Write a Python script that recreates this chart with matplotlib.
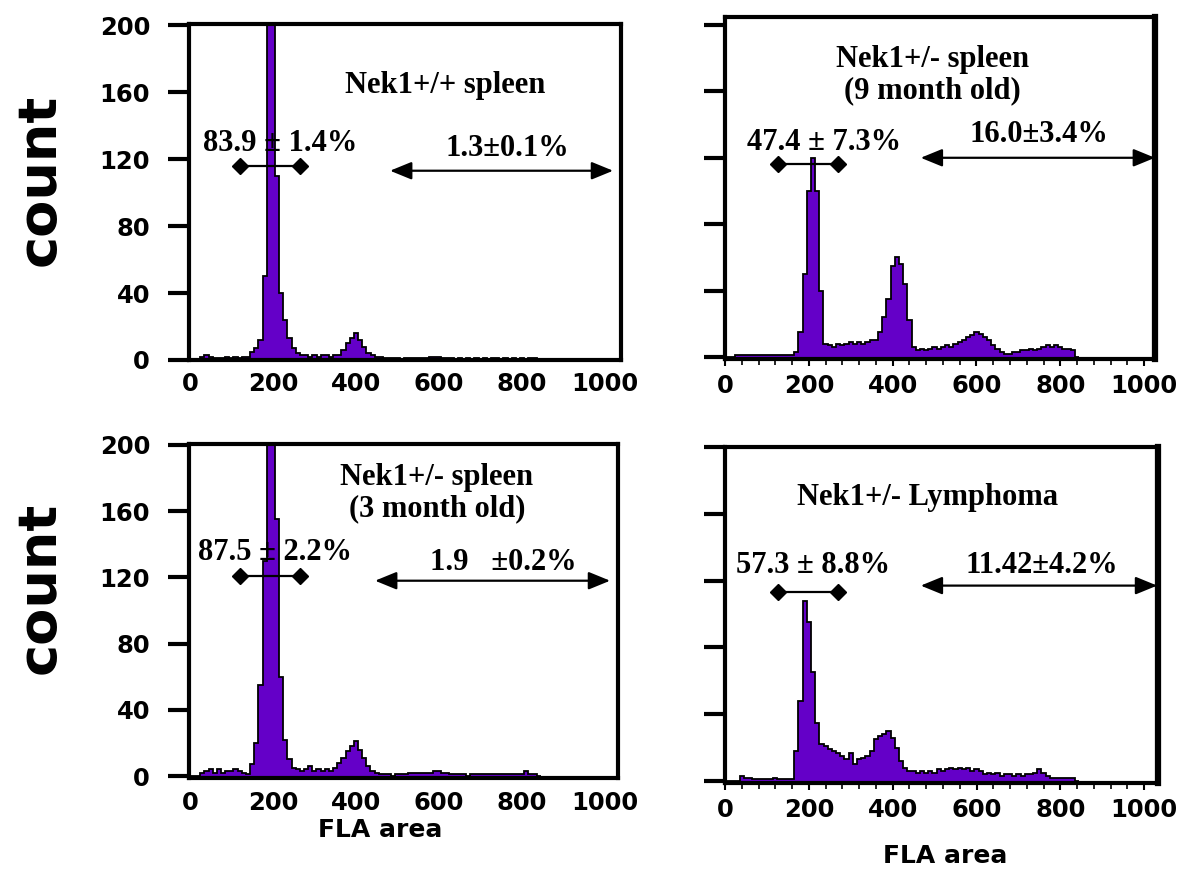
import matplotlib
matplotlib.use("Agg")
import matplotlib.pyplot as plt
import numpy as np

# ---------------- data ----------------
bin_centers = list(range(0, 850, 10))   # FLA area channel centres (bin width 10)

tl_counts = [0, 0, 0, 2, 3, 2, 1, 1, 1, 2,
             1, 2, 1, 2, 2, 5, 7, 12, 50, 210,
             230, 110, 40, 24, 13, 7, 4, 3, 3, 2,
             3, 2, 3, 3, 2, 3, 3, 6, 10, 13,
             16, 12, 8, 4, 3, 2, 2, 1, 1, 1,
             1, 0, 1, 1, 1, 1, 1, 1, 2, 2,
             2, 1, 1, 1, 0, 1, 0, 1, 0, 1,
             0, 1, 0, 1, 1, 0, 1, 0, 1, 0,
             1, 0, 1, 1, 0]

tr_counts = [0, 0, 0, 1, 1, 1, 1, 1, 1, 1,
             1, 1, 1, 1, 1, 1, 1, 3, 15, 50,
             100, 120, 100, 40, 8, 7, 6, 8, 7, 8,
             9, 8, 9, 8, 9, 10, 10, 15, 24, 35,
             55, 60, 56, 44, 22, 6, 4, 5, 4, 5,
             6, 5, 6, 7, 6, 8, 9, 10, 12, 13,
             15, 14, 12, 10, 7, 5, 3, 2, 2, 3,
             3, 4, 4, 5, 4, 5, 6, 7, 6, 7,
             6, 5, 5, 4, 0]

bl_counts = [0, 0, 0, 2, 3, 4, 2, 4, 2, 3,
             3, 4, 3, 2, 1, 7, 20, 55, 130, 215,
             230, 155, 60, 22, 10, 5, 4, 3, 4, 6,
             3, 4, 3, 4, 3, 5, 8, 11, 15, 18,
             21, 16, 11, 6, 3, 2, 1, 1, 1, 0,
             1, 1, 1, 2, 2, 2, 2, 2, 2, 3,
             3, 2, 2, 1, 1, 1, 1, 0, 1, 1,
             1, 1, 1, 1, 1, 1, 1, 1, 1, 1,
             1, 3, 1, 1, 0]

br_counts = [0, 0, 0, 0, 3, 2, 2, 1, 1, 1,
             1, 1, 2, 1, 1, 1, 1, 18, 48, 108,
             95, 65, 35, 22, 21, 19, 18, 17, 15, 13,
             17, 10, 13, 14, 15, 18, 25, 27, 28, 30,
             26, 20, 12, 8, 6, 6, 5, 6, 5, 6,
             5, 7, 6, 7, 8, 7, 8, 7, 8, 6,
             7, 6, 4, 5, 4, 5, 3, 4, 4, 3,
             4, 3, 4, 4, 5, 7, 5, 3, 2, 2,
             2, 2, 2, 2, 0]

y_ticks = [0, 40, 80, 120, 160, 200]
x_ticks = [0, 200, 400, 600, 800, 1000]

titles = ["Nek1+/+ spleen", "Nek1+/- spleen\n(9 month old)",
          "Nek1+/- spleen\n(3 month old)", "Nek1+/- Lymphoma"]
g1_labels = ["83.9 \u00b1 1.4%", "47.4 \u00b1 7.3%", "87.5 \u00b1 2.2%", "57.3 \u00b1 8.8%"]
sub_labels = ["1.3\u00b10.1%", "16.0\u00b13.4%", "1.9   \u00b10.2%", "11.42\u00b14.2%"]

# ---------------- style ----------------
PURPLE = "#6400C8"
SANS = ["DejaVu Sans"]
SERIF = ["Liberation Serif", "DejaVu Serif"]
TXT = 22
TICK = 17.5

W, H = 1189, 869
fig = plt.figure(figsize=(W / 100, H / 100), dpi=100)

def frac(l, r, t, b):
    return [l / W, 1 - b / H, (r - l) / W, (b - t) / H]

panels = [
    dict(rect=frac(189, 621, 24, 360), xlim=(-2, 1038), ylim=(0, 200.6), labels=True,
         counts=tl_counts,
         title_xy=(614, 164), g1_xy=(217, 129), bar=(120, 265, 116),
         arrow=(482, 1019, 113), sub_xy=(764, 126)),
    dict(rect=frac(725, 1155, 17, 359), xlim=(0, 1026), ylim=(-1.2, 204.8), labels=False,
         counts=tr_counts,
         title_xy=(495, 170), g1_xy=(236, 129), bar=(126, 269, 116),
         arrow=(467, 1026, 120), sub_xy=(748, 134)),
    dict(rect=frac(189, 618, 444, 778), xlim=(-2, 1031), ylim=(-1.2, 200.6), labels=True,
         counts=bl_counts,
         title_xy=(595, 171), g1_xy=(205, 135), bar=(120, 265, 121),
         arrow=(446, 1012, 118), sub_xy=(754, 129)),
    dict(rect=frac(725, 1158, 447, 783), xlim=(0, 1033), ylim=(-1.2, 200), labels=False,
         counts=br_counts,
         title_xy=(483, 170), g1_xy=(210, 129), bar=(126, 269, 113),
         arrow=(467, 1031, 117), sub_xy=(757, 129)),
]

centers = np.array(bin_centers, dtype=float)
edges = np.concatenate([centers - 5, [centers[-1] + 5]])

for i, p in enumerate(panels):
    ax = fig.add_axes(p["rect"])
    counts = np.array(p["counts"], dtype=float)
    ax.stairs(counts, edges, fill=True, color=PURPLE, zorder=2)
    ax.stairs(counts, edges, color="black", lw=1.3, zorder=3)
    ax.set_xlim(*p["xlim"])
    ax.set_ylim(*p["ylim"])

    for s in ax.spines.values():
        s.set_linewidth(3)
        s.set_zorder(5)
    if not p["labels"]:
        ax.spines["right"].set_linewidth(4.5)

    ax.set_yticks(y_ticks)
    ax.set_xticks(x_ticks)
    ax.tick_params(axis="y", direction="out", length=15, width=3, pad=13,
                   labelsize=TICK, left=True, right=False)
    if p["labels"]:
        ax.tick_params(axis="x", length=0, pad=9, labelsize=TICK)
    else:
        ax.set_yticklabels([])
        ax.set_xticks(np.arange(0, 1001, 40), minor=True)
        ax.tick_params(axis="x", which="major", direction="out", length=5, width=1.5,
                       pad=6, labelsize=TICK)
        ax.tick_params(axis="x", which="minor", direction="out", length=4, width=1.2)
    for lab in ax.get_xticklabels() + ax.get_yticklabels():
        lab.set_fontfamily(SANS)
        lab.set_fontweight("bold")

    # annotations
    ax.text(*p["title_xy"], titles[i], ha="center", va="center", fontsize=TXT,
            fontweight="bold", family=SERIF, linespacing=1.1, zorder=6)
    ax.text(*p["g1_xy"], g1_labels[i], ha="center", va="center", fontsize=TXT,
            fontweight="bold", family=SERIF, zorder=6)
    x1, x2, yb = p["bar"]
    ax.plot([x1, x2], [yb, yb], color="black", lw=1.6, marker="D", markersize=8,
            zorder=6, clip_on=False)
    a1, a2, ya = p["arrow"]
    ax.annotate("", xy=(a2, ya), xytext=(a1, ya),
                arrowprops=dict(arrowstyle="<|-|>,head_length=1.1,head_width=0.45",
                                mutation_scale=12, color="black", lw=1.6,
                                shrinkA=0, shrinkB=0), zorder=6, annotation_clip=False)
    ax.text(*p["sub_xy"], sub_labels[i], ha="center", va="center", fontsize=TXT,
            fontweight="bold", family=SERIF, zorder=6)

# shared axis labels
fig.text(40 / W, 1 - 180 / H, "count", rotation=90, ha="center", va="center",
         fontsize=39, fontweight="bold", family=SANS)
fig.text(40 / W, 1 - 588 / H, "count", rotation=90, ha="center", va="center",
         fontsize=39, fontweight="bold", family=SANS)
fig.text(380 / W, 1 - 830 / H, "FLA area", ha="center", va="center",
         fontsize=18, fontweight="bold", family=SANS)
fig.text(945 / W, 1 - 856 / H, "FLA area", ha="center", va="center",
         fontsize=18, fontweight="bold", family=SANS)

fig.savefig("out.png", dpi=100, facecolor="white")
